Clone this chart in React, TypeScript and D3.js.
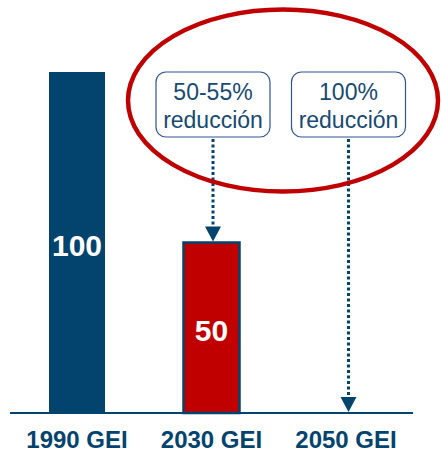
import React from "react";
import * as d3 from "d3";

const categories = ["1990 GEI", "2030 GEI", "2050 GEI"];
const values: (number | null)[] = [100, 50, null];
const barColors = ["#03446f", "#c00000", "none"];
const annotationCats = ["2030 GEI", "2050 GEI"];
const annotationTargets = [50, 0];
const annotationLine1 = ["50-55%", "100%"];
const annotationLine2 = ["reducción", "reducción"];

const W = 442;
const H = 453;
const NAVY = "#03446f";
const FONT = "'Liberation Sans', Arial, sans-serif";

export default function App() {
  const x = d3.scalePoint<string>().domain(categories).range([77, 346]);
  const y = d3.scaleLinear().domain([0, 100]).range([413, 72]);
  const barW = 56;
  const headW = 16;
  const headH = 15;

  return (
    <svg
      width={W}
      height={H}
      style={{ position: "absolute", left: 0, top: 0, background: "#fff" }}
      fontFamily={FONT}
    >
      {/* bars */}
      {categories.map((c, i) => {
        const v = values[i];
        if (v == null) return null;
        const cx = x(c)!;
        const top = y(v);
        const isRed = barColors[i] === "#c00000";
        return (
          <g key={c}>
            <rect
              x={cx - barW / 2}
              y={top}
              width={barW}
              height={y(0) - top}
              fill={barColors[i]}
              stroke={isRed ? NAVY : "none"}
              strokeWidth={isRed ? 2.5 : 0}
            />
            <text
              x={cx}
              y={(top + y(0)) / 2 + 13}
              textAnchor="middle"
              fill="#fff"
              fontWeight="bold"
              fontSize={30}
            >
              {v}
            </text>
          </g>
        );
      })}

      {/* baseline */}
      <line x1={10} x2={413} y1={y(0)} y2={y(0)} stroke={NAVY} strokeWidth={2} />

      {/* category labels */}
      {categories.map((c) => (
        <text
          key={c}
          x={x(c)!}
          y={448}
          textAnchor="middle"
          fill={NAVY}
          fontWeight="bold"
          fontSize={24}
        >
          {c}
        </text>
      ))}

      {/* annotation boxes and arrows */}
      {annotationCats.map((c, i) => {
        const cx = x(c)! + (i === 0 ? 1.5 : 2.5);
        const bw = 114;
        const bx = cx - bw / 2;
        const by = 72;
        const bh = 65;
        const tip = y(annotationTargets[i]) - 1;
        return (
          <g key={c}>
            <line
              x1={cx}
              x2={cx}
              y1={by + bh + 2}
              y2={tip - headH + 1}
              stroke={NAVY}
              strokeWidth={3}
              strokeDasharray="3 2.5"
            />
            <path
              d={`M${cx - headW / 2},${tip - headH} L${cx + headW / 2},${tip - headH} L${cx},${tip} Z`}
              fill={NAVY}
            />
            <rect
              x={bx}
              y={by}
              width={bw}
              height={bh}
              rx={10}
              fill="#fff"
              stroke="#2f5597"
              strokeWidth={1.2}
            />
            <text x={cx} y={100} textAnchor="middle" fill="#174a73" fontSize={23}>
              {annotationLine1[i]}
            </text>
            <text x={cx} y={128} textAnchor="middle" fill="#174a73" fontSize={23}>
              {annotationLine2[i]}
            </text>
          </g>
        );
      })}

      {/* highlight ellipse */}
      <ellipse cx={283} cy={100.5} rx={155} ry={91} fill="none" stroke="#c00000" strokeWidth={4.5} />
    </svg>
  );
}
